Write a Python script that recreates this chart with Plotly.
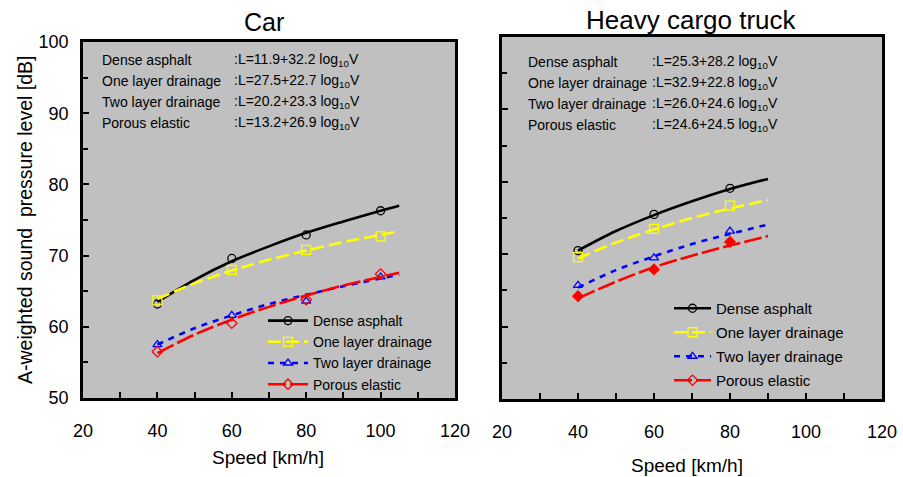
import plotly.graph_objects as go

W, H = 903, 477

# ---------------- data ----------------
series_names = ["Dense asphalt", "One layer drainage", "Two layer drainage", "Porous elastic"]

car_eq = [":L=11.9+32.2 log<sub>10</sub>V", ":L=27.5+22.7 log<sub>10</sub>V",
          ":L=20.2+23.3 log<sub>10</sub>V", ":L=13.2+26.9 log<sub>10</sub>V"]
truck_eq = [":L=25.3+28.2 log<sub>10</sub>V", ":L=32.9+22.8 log<sub>10</sub>V",
            ":L=26.0+24.6 log<sub>10</sub>V", ":L=24.6+24.5 log<sub>10</sub>V"]

# measured points
car_speed = [40, 60, 80, 100]
car_dense = [63.2, 69.6, 72.9, 76.3]
car_one = [63.7, 68.0, 70.8, 72.7]
car_two = [57.5, 61.6, 63.6, 67.0]
car_porous = [56.5, 60.5, 63.8, 67.4]

truck_speed = [40, 60, 80]
truck_dense = [70.5, 75.5, 79.1]
truck_one = [69.6, 73.5, 76.7]
truck_two = [65.7, 69.5, 73.2]
truck_porous = [64.2, 67.9, 71.7]

# regression curves
car_curve_speed = [40, 50, 60, 70, 80, 90, 100, 105]
car_dense_curve = [63.5, 66.6, 69.2, 71.3, 73.2, 74.8, 76.3, 77.0]
car_one_curve = [63.9, 66.1, 67.9, 69.4, 70.7, 71.9, 72.9, 73.4]
car_two_curve = [57.5, 59.8, 61.6, 63.2, 64.5, 65.7, 66.8, 67.3]
car_porous_curve = [56.3, 58.9, 61.0, 62.8, 64.4, 65.8, 67.0, 67.6]

truck_curve_speed = [40, 50, 60, 70, 80, 90]
truck_dense_curve = [70.5, 73.2, 75.4, 77.3, 79.0, 80.4]
truck_one_curve = [69.4, 71.6, 73.4, 75.0, 76.3, 77.5]
truck_two_curve = [65.4, 67.8, 69.7, 71.4, 72.8, 74.1]
truck_porous_curve = [63.9, 66.2, 68.2, 69.8, 71.2, 72.5]

x_ticks = [20, 40, 60, 80, 100, 120]
y_ticks = [50, 60, 70, 80, 90, 100]

# ---------------- styles ----------------
colors = ["#000000", "#FFFF00", "#0000FF", "#FF0000"]
dashes = ["solid", "13px,5px", "6px,6px", "18px,4px"]
symbols = ["circle-open", "square-open", "triangle-up-open", "diamond-open"]
truck_symbols = ["circle-open", "square-open", "triangle-up-open", "diamond"]
msizes = [8, 9, 8, 8]
FONT = "Liberation Sans, Arial, sans-serif"

def px(x):
    return x / W

def py(y):
    return 1 - y / H

fig = go.Figure()

panels = [
    dict(xa="x", ya="y", legend="legend", cs=car_curve_speed, tag="car",
         curves=[car_dense_curve, car_one_curve, car_two_curve, car_porous_curve],
         ms=car_speed, meas=[car_dense, car_one, car_two, car_porous], syms=symbols),
    dict(xa="x2", ya="y2", legend="legend2", cs=truck_curve_speed, tag="truck",
         curves=[truck_dense_curve, truck_one_curve, truck_two_curve, truck_porous_curve],
         ms=truck_speed, meas=[truck_dense, truck_one, truck_two, truck_porous], syms=truck_symbols),
]

for p in panels:
    for i, name in enumerate(series_names):
        # fitted curve (carries the legend entry; its own markers are hidden)
        fig.add_trace(go.Scatter(
            x=p["cs"], y=p["curves"][i], mode="lines+markers", name=name,
            xaxis=p["xa"], yaxis=p["ya"], legend=p["legend"],
            legendgroup=p["tag"] + str(i),
            line=dict(color=colors[i], width=2.6, dash=dashes[i], shape="spline"),
            marker=dict(symbol=symbols[i], size=msizes[i], color=colors[i],
                        line=dict(color=colors[i], width=1.3)),
            selectedpoints=[], unselected=dict(marker=dict(opacity=0)),
            hoverinfo="skip", showlegend=True,
        ))
        # measured points
        fig.add_trace(go.Scatter(
            x=p["ms"], y=p["meas"][i], mode="markers", name=name,
            xaxis=p["xa"], yaxis=p["ya"], showlegend=False,
            marker=dict(symbol=p["syms"][i], size=msizes[i], color=colors[i],
                        line=dict(color=colors[i], width=1.3)),
        ))

axis_common = dict(
    showgrid=False, zeroline=False, showline=True, linecolor="black", linewidth=2.6,
    mirror=True, ticks="inside", tickcolor="black", tickwidth=1.5, ticklen=6,
    tickfont=dict(family=FONT, size=18, color="black"), automargin=False,
)

fig.update_layout(
    width=W, height=H, margin=dict(l=0, r=0, t=0, b=0, autoexpand=False),
    paper_bgcolor="white", plot_bgcolor="#C0C0C0",
    font=dict(family=FONT, color="black"),
    xaxis=dict(axis_common, domain=[px(83), px(455)], range=[20, 120], tickvals=x_ticks,
               minor=dict(dtick=10, ticks="inside", ticklen=6, tickcolor="black", tickwidth=1.5),
               ticklabelstandoff=15, anchor="y"),
    yaxis=dict(axis_common, domain=[py(398), py(42)], range=[50, 100], tickvals=y_ticks,
               minor=dict(dtick=5, ticks="inside", ticklen=5, tickcolor="black", tickwidth=1.5),
               ticklabelstandoff=8, anchor="x"),
    xaxis2=dict(axis_common, domain=[px(502), px(882)], range=[20, 120], tickvals=x_ticks,
                minor=dict(dtick=10, ticks="inside", ticklen=6, tickcolor="black", tickwidth=1.5),
                ticklabelstandoff=15, anchor="y2"),
    yaxis2=dict(axis_common, domain=[py(399), py(37)], range=[50, 100], tickvals=y_ticks,
                minor=dict(dtick=5, ticks="inside", ticklen=5, tickcolor="black", tickwidth=1.5),
                showticklabels=False, anchor="x2"),
    legend=dict(x=px(263), y=py(305), xanchor="left", yanchor="top",
                bgcolor="rgba(0,0,0,0)", font=dict(size=14), tracegroupgap=0,
                itemwidth=40),
    legend2=dict(x=px(669), y=py(292), xanchor="left", yanchor="top",
                 bgcolor="rgba(0,0,0,0)", font=dict(size=15), tracegroupgap=1.5,
                 itemwidth=37),
    showlegend=True,
)

def label(text, x, y, size, **kw):
    fig.add_annotation(text=text, x=px(x), y=py(y), xref="paper", yref="paper",
                       showarrow=False, font=dict(size=size), yanchor="middle", **kw)

# titles
label("Car", 264, 22, 25, xanchor="center")
label("Heavy cargo truck", 691, 20, 26, xanchor="center")

# axis titles
label("Speed [km/h]", 268, 457, 19, xanchor="center")
label("Speed [km/h]", 687, 465, 19, xanchor="center")
label("A-weighted sound \u00a0pressure level [dB]", 25, 220, 19.5, xanchor="center", textangle=-90)

# equation blocks
left_rows = [60, 81, 102, 123]
right_rows = [62, 83, 104, 125]
for i, name in enumerate(series_names):
    label(name, 100, left_rows[i], 14, xanchor="left")
    label(car_eq[i], 232, left_rows[i], 14, xanchor="left")
    label(name, 526, right_rows[i], 14, xanchor="left")
    label(truck_eq[i], 650, right_rows[i], 14, xanchor="left")

fig.write_html(
    "out.html",
    config={"displayModeBar": False},
    post_script="document.body.style.margin='0';document.body.style.overflow='hidden';",
)
